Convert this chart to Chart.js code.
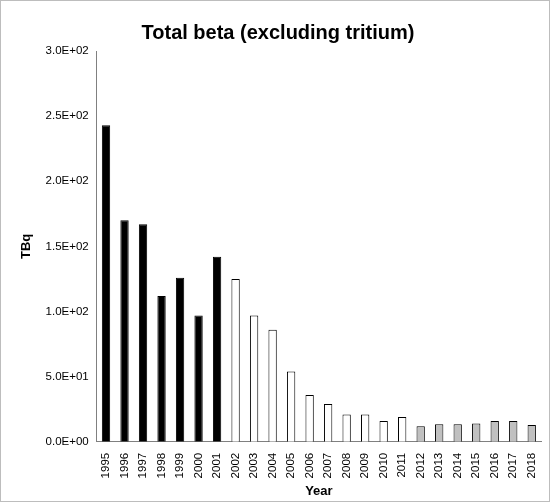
<!DOCTYPE html>
<html><head><meta charset="utf-8">
<script src="https://cdn.jsdelivr.net/npm/chart.js@4/dist/chart.umd.min.js"></script>
<style>html,body{margin:0;padding:0;background:#fff}
#wrap{position:absolute;left:0;top:0;width:548px;height:500px;border:1px solid #bdbdbd}</style>
</head><body><div id="wrap"><canvas id="c" width="548" height="500"></canvas></div>
<script>
const years = ["1995","1996","1997","1998","1999","2000","2001","2002","2003","2004","2005","2006","2007","2008","2009","2010","2011","2012","2013","2014","2015","2016","2017","2018"];
const values = [243,170,167,112,126,97,142,125,97,86,54,36,29,21,21,16,19,12,13.5,13.5,14,16,16,13];
const fills = years.map(y => +y <= 2001 ? "#000000" : (+y <= 2011 ? "#ffffff" : "#c0c0c0"));
function fmt(v){ const [m,e]=v.toExponential(1).split("e"); const n=parseInt(e,10); return m+"E"+(n<0?"-":"+")+String(Math.abs(n)).padStart(2,"0"); }
new Chart(document.getElementById("c"),{
 type:"bar",
 data:{labels:years,datasets:[{data:values,backgroundColor:fills,borderColor:"#000",borderWidth:1,barPercentage:0.45,categoryPercentage:1}]},
 options:{responsive:false,animation:false,
  layout:{padding:{left:14,right:8,top:0,bottom:2}},
  plugins:{legend:{display:false},tooltip:{enabled:false},
   title:{display:true,text:"Total beta (excluding tritium)",font:{family:"Liberation Sans",size:20,weight:"bold"},color:"#000",padding:{top:20,bottom:6}}},
  scales:{
   x:{grid:{display:false,drawTicks:true},border:{color:"#808080"},ticks:{color:"#000",font:{family:"Liberation Sans",size:11.5},maxRotation:90,minRotation:90,autoSkip:false},
      title:{display:true,text:"Year",font:{family:"Liberation Sans",size:13,weight:"bold"},color:"#000",padding:{top:2,bottom:0}}},
   y:{min:0,max:300,grid:{display:false,drawTicks:true,tickLength:5},border:{color:"#808080"},ticks:{stepSize:50,color:"#000",font:{family:"Liberation Sans",size:11.5},callback:v=>fmt(v)},
      title:{display:true,text:"TBq",font:{family:"Liberation Sans",size:13,weight:"bold"},color:"#000",padding:{bottom:8}}}
  }}
});
</script></body></html>
